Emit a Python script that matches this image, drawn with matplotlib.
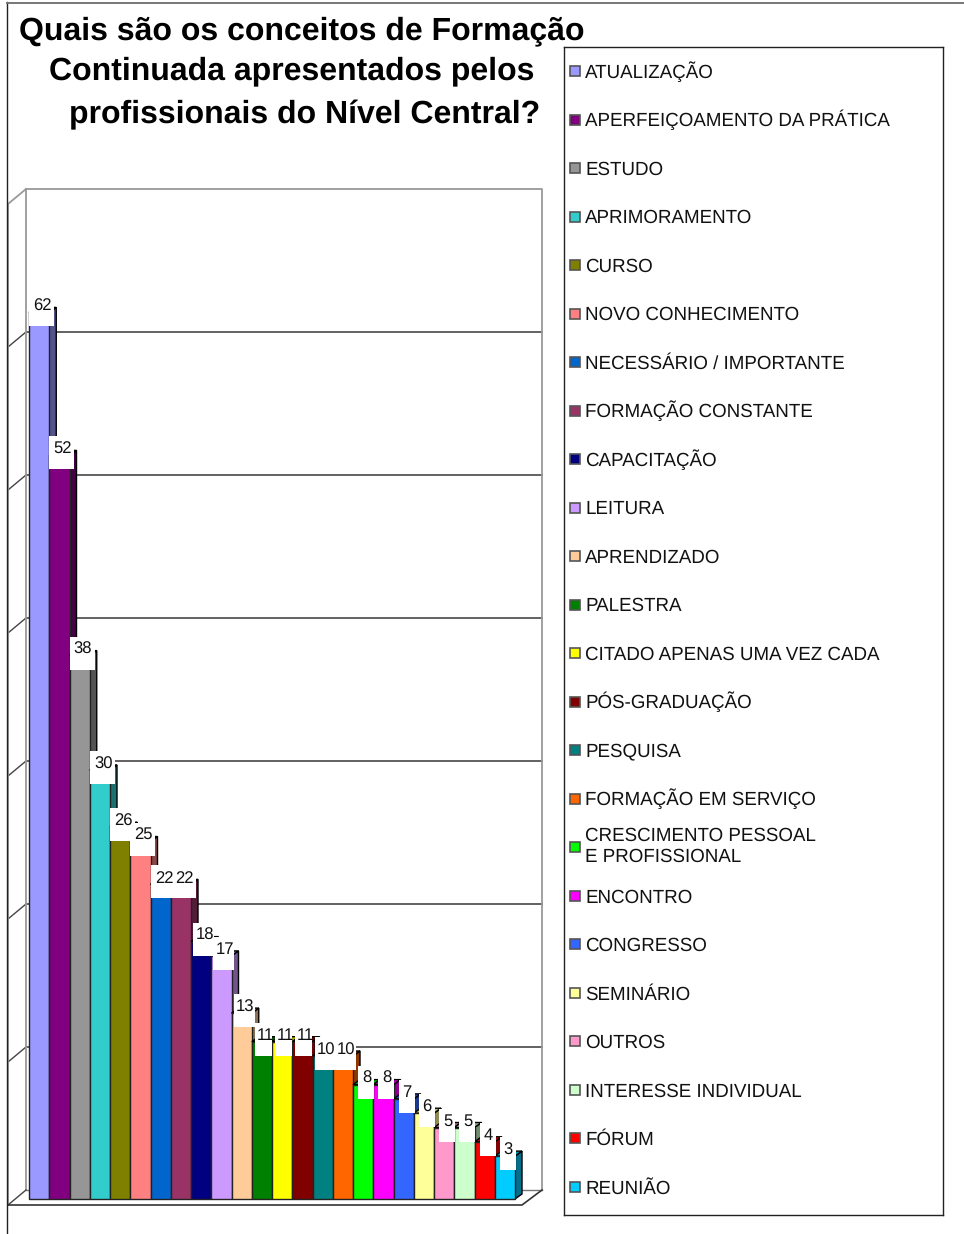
import matplotlib
matplotlib.use('Agg')
import matplotlib.pyplot as plt
from matplotlib.patches import Polygon, Rectangle

plt.rcParams['font.family'] = ['Liberation Sans', 'DejaVu Sans']
plt.rcParams['text.hinting'] = 'no_hinting'

W, H = 964, 1234

title_lines = ['Quais são os conceitos de Formação',
               'Continuada apresentados pelos',
               'profissionais do Nível Central?']

categories = ['ATUALIZAÇÃO', 'APERFEIÇOAMENTO DA PRÁTICA', 'ESTUDO', 'APRIMORAMENTO',
              'CURSO', 'NOVO CONHECIMENTO', 'NECESSÁRIO / IMPORTANTE', 'FORMAÇÃO CONSTANTE',
              'CAPACITAÇÃO', 'LEITURA', 'APRENDIZADO', 'PALESTRA',
              'CITADO APENAS UMA VEZ CADA', 'PÓS-GRADUAÇÃO', 'PESQUISA', 'FORMAÇÃO EM SERVIÇO',
              'CRESCIMENTO PESSOAL\nE PROFISSIONAL', 'ENCONTRO', 'CONGRESSO', 'SEMINÁRIO',
              'OUTROS', 'INTERESSE INDIVIDUAL', 'FÓRUM', 'REUNIÃO']
values = [62, 52, 38, 30, 26, 25, 22, 22, 18, 17, 13, 11, 11, 11, 10, 10, 8, 8, 7, 6, 5, 5, 4, 3]
colors = ['#9999FF', '#800080', '#969696', '#33CCCC', '#808000', '#FF8080', '#0066CC', '#993366',
          '#000080', '#CC99FF', '#FFCC99', '#008000', '#FFFF00', '#800000', '#008080', '#FF6600',
          '#00FF00', '#FF00FF', '#3366FF', '#FFFF99', '#FF99CC', '#CCFFCC', '#FF0000', '#00CCFF']
grid_values = [0, 10, 20, 30, 40, 50, 60, 70]

fig = plt.figure(figsize=(W / 100, H / 100), dpi=100)


def px_axes(left, top, right, bottom):
    return fig.add_axes([left / W, 1 - bottom / H, (right - left) / W, (bottom - top) / H])


# front plane of the 3d chart: bars run from x=29 to 515, value 70 is 1001 px high
ax = px_axes(29, 198, 515, 1199)
ax.set_xlim(0, 24)
ax.set_ylim(0, 70)
ax.axis('off')
ux = 486 / 24
uy = 1001 / 70


def to_x(px):
    return px / ux


def to_y(px):
    return px / uy


# walls and floor
wall_dy = to_y(9)
side_dx, side_dy = to_x(7), to_y(5)
right_end = to_x(542 - 29)
left_front = to_x(8 - 29)
floor_front = to_y(-6)
wall_left = to_x(26 - 29)

gray = '#999999'
for v in grid_values[1:-1]:
    ax.plot([wall_left, right_end], [v + wall_dy, v + wall_dy], color='#555555', lw=1.3, clip_on=False, zorder=1)
    ax.plot([left_front, wall_left], [v + floor_front, v + wall_dy], color='#444444', lw=1, clip_on=False, zorder=1)
top = 70 + wall_dy
ax.plot([wall_left, right_end, right_end], [top, top, wall_dy], color=gray, lw=1.3, clip_on=False, zorder=1)
ax.plot([wall_left, wall_left], [wall_dy, top], color=gray, lw=1.3, clip_on=False, zorder=1)
ax.plot([left_front, wall_left], [70 + floor_front, top], color=gray, lw=1.3, clip_on=False, zorder=1)
ax.plot([left_front, left_front], [floor_front, 70 + floor_front], color=gray, lw=1.3, clip_on=False, zorder=1)
ax.plot([wall_left, right_end], [wall_dy, wall_dy], color='#777777', lw=1, clip_on=False, zorder=1)
ax.plot([left_front, wall_left], [floor_front, wall_dy], color='#444444', lw=1, clip_on=False, zorder=1)
ax.plot([left_front, to_x(522 - 29), right_end], [floor_front, floor_front, wall_dy],
        color='#333333', lw=1.2, clip_on=False, zorder=1)


def shade(hex_color, f):
    rgb = matplotlib.colors.to_rgb(hex_color)
    return tuple(c * f for c in rgb)


# bars, left to right so that each one hides the side of the one before
for i, (v, c) in enumerate(zip(values, colors)):
    z = 2 + i * 0.01
    side = Polygon([(i + 1, 0), (i + 1 + side_dx, side_dy), (i + 1 + side_dx, v + side_dy), (i + 1, v)],
                   facecolor=shade(c, 0.55), edgecolor='black', lw=1, zorder=z, clip_on=False)
    cap = Polygon([(i, v), (i + side_dx, v + side_dy), (i + 1 + side_dx, v + side_dy), (i + 1, v)],
                  facecolor=shade(c, 0.7), edgecolor='black', lw=1, zorder=z, clip_on=False)
    ax.add_patch(side)
    ax.add_patch(cap)
    ax.bar(i, v, width=1, align='edge', color=c, edgecolor='#222222', lw=1, zorder=z, clip_on=False)


def label_box(v):
    # white box behind a label follows the text width, offset and width in px
    if v < 10:
        return 5, 16
    if v == 11:
        return 3, 17
    if v < 20:
        return 2, 21
    return 0, 25


# value labels sit on white boxes
for i, v in enumerate(values):
    off, wid = label_box(v)
    ax.add_patch(Rectangle((i + to_x(off), v - to_y(14)), to_x(wid), to_y(33), facecolor='white', edgecolor='none',
                           zorder=3 + i * 0.01, clip_on=False))
    ax.text(i + to_x(13.5), v + to_y(6), str(v), fontsize=12, color='#111111', ha='center', va='center',
            zorder=4, clip_on=False)

# legend, drawn in its own frame
lg = px_axes(564, 47, 943, 1215)
lg.set_xlim(564, 943)
lg.set_ylim(1215, 47)
lg.set_xticks([])
lg.set_yticks([])
for s in lg.spines.values():
    s.set_color('#222222')
    s.set_linewidth(1)
for i, (name, c) in enumerate(zip(categories, colors)):
    y = 71 + i * 48.52
    lg.add_patch(Rectangle((570, y - 5), 10, 10, facecolor=c, edgecolor='#555555', lw=1.2))
    base = y + 14 if '\n' in name else y + 6.5
    lg.text(585, base, name, fontsize=13.5, color='#111111', va='baseline', ha='left', linespacing=1.23)

# title, each line placed on its own as in the source
title_x = [19, 49, 69]
title_y = [39, 79, 123]
for line, x, y in zip(title_lines, title_x, title_y):
    fig.text(x / W, 1 - y / H, line, fontsize=23.0, fontweight='bold', color='black', ha='left', va='baseline')

# page border
fig.add_artist(plt.Line2D([7 / W, 7 / W], [0, 1 - 2 / H], color='#222222', lw=1))
fig.add_artist(plt.Line2D([7 / W, 1], [1 - 2.5 / H, 1 - 2.5 / H], color='#777777', lw=1.4))

fig.savefig('out.png', dpi=100)
